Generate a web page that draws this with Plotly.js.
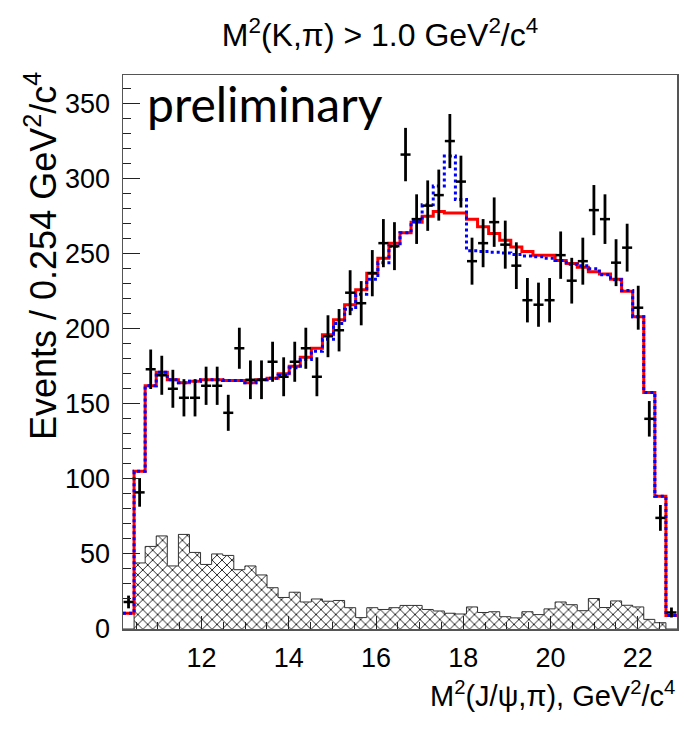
<!DOCTYPE html>
<html><head><meta charset="utf-8">
<script src="https://cdn.plot.ly/plotly-3.0.1.min.js"></script>
<style>html,body{margin:0;padding:0;background:#fff}</style>
</head><body><div id="chart" style="width:681px;height:739px"></div>
<script>
// Binning: 50 bins of 0.254 GeV^2/c^4
const X_MIN = 10.2;
const BIN_W = 0.254;

// Data counts per bin
const dataCounts = [18, 91, 173, 169, 160, 154, 154, 162, 162, 144,
  187, 166, 166, 178, 168, 178, 187, 168, 195, 199,
  224, 217, 237, 257, 255, 316, 273, 282, 289, 325,
  298, 245, 257, 271, 256, 242, 219, 216, 219, 249,
  232, 245, 279, 273, 244, 254, 214, 140, 74, 11];

// Red fit (solid)
const fitRed = [10.5, 105, 162, 171, 166, 164, 165, 166, 166, 165.5,
  165.5, 164, 166, 167, 170, 175, 181, 187, 196, 206,
  216, 226, 237, 247, 257, 264, 271, 275, 278, 277,
  277, 273, 268, 263.5, 259, 254.5, 251.5, 249, 249, 245.5,
  243.5, 241, 238, 236.5, 233, 225, 208, 157.5, 88.5, 9];

// Blue fit (dotted)
const fitBlue = [10.5, 105, 162, 171, 166, 164, 165, 166, 166, 165.5,
  165.5, 164, 166, 167, 169, 174, 179.5, 185, 193, 203.5,
  213, 223, 233, 244, 255, 264, 271.5, 282.5, 295, 315,
  286, 252, 251.5, 251, 250.5, 249.5, 248.5, 248, 247, 245.5,
  243, 242, 240, 236, 232.7, 225.5, 208, 157.5, 88.5, 9];

// Hatched background
const background = [0, 44, 55, 62, 42, 63, 51, 43, 50, 49,
  39.5, 42, 36, 27.5, 21, 24.5, 18, 20, 18.5, 19,
  14.2, 7.6, 14.2, 13, 14.2, 15.7, 15.7, 13, 12, 10.5,
  10, 14.7, 11, 11.5, 8.2, 7.4, 11.5, 9.6, 13.4, 18,
  16.2, 12.2, 20.3, 14.3, 18.7, 15.8, 14.7, 6.4, 4.2, 0];

const xTickVals = [12, 14, 16, 18, 20, 22];
const yTickVals = [0, 50, 100, 150, 200, 250, 300, 350];

const nb = dataCounts.length;
const centers = dataCounts.map((_, i) => X_MIN + (i + 0.5) * BIN_W);
const edges = Array.from({length: nb + 1}, (_, i) => X_MIN + i * BIN_W);
const stepY = arr => arr.concat([arr[arr.length - 1]]);
const errs = dataCounts.map(v => Math.sqrt(v));

const FONT = 'Liberation Sans, Arial, Helvetica, sans-serif';

const traces = [
  {
    type: 'bar', x: centers, y: background, width: BIN_W,
    marker: {color: '#ffffff', line: {width: 0},
      pattern: {shape: 'x', size: 7, solidity: 0.25, fgcolor: '#1a1a1a', bgcolor: '#ffffff', fillmode: 'replace'}},
    hoverinfo: 'skip', showlegend: false
  },
  {
    type: 'scatter', mode: 'lines', x: edges, y: stepY(background),
    line: {shape: 'hv', color: '#333', width: 1}, showlegend: false, hoverinfo: 'skip'
  },
  {
    type: 'scatter', mode: 'lines', x: edges, y: stepY(fitRed),
    line: {shape: 'hv', color: '#ff0000', width: 3}, showlegend: false
  },
  {
    type: 'scatter', mode: 'lines', x: edges, y: stepY(fitBlue),
    line: {shape: 'hv', color: '#0000ff', width: 3, dash: 'dot'}, showlegend: false
  },
  {
    type: 'scatter', mode: 'markers', x: centers, y: dataCounts,
    marker: {size: 3, color: '#000'},
    error_y: {type: 'data', array: errs, color: '#000', thickness: 2.8, width: 0},
    error_x: {type: 'constant', value: 0.115, color: '#000', thickness: 2.5, width: 0},
    showlegend: false
  }
];

const layout = {
  width: 681, height: 739,
  margin: {l: 123, r: 4, t: 75, b: 110},
  paper_bgcolor: '#fff', plot_bgcolor: '#fff',
  showlegend: false,
  bargap: 0,
  font: {family: FONT, color: '#000'},
  title: {
    text: 'M<sup>2</sup>(K,π) > 1.0 GeV<sup>2</sup>/c<sup>4</sup>',
    font: {family: FONT, size: 32, color: '#000'},
    x: 380 / 681, xref: 'container', xanchor: 'center',
    y: 1 - 35 / 739, yref: 'container', yanchor: 'middle'
  },
  xaxis: {
    range: [X_MIN, X_MIN + nb * BIN_W],
    tickmode: 'array', tickvals: xTickVals, ticktext: xTickVals.map(String),
    ticks: 'inside', ticklen: 13, tickwidth: 1, tickcolor: '#222',
    minor: {dtick: 0.5, tick0: 0, ticks: 'inside', ticklen: 7, tickwidth: 1, tickcolor: '#222', showgrid: false},
    showline: true, mirror: true, linecolor: '#555', linewidth: 1.5,
    showgrid: false, zeroline: false,
    tickfont: {family: FONT, size: 27, color: '#000'},
    ticklabelstandoff: 4
  },
  yaxis: {
    range: [0, 369],
    tickmode: 'array', tickvals: yTickVals, ticktext: yTickVals.map(String),
    ticks: 'inside', ticklen: 17, tickwidth: 1, tickcolor: '#222',
    minor: {dtick: 10, tick0: 0, ticks: 'inside', ticklen: 8, tickwidth: 1, tickcolor: '#222', showgrid: false},
    showline: true, mirror: true, linecolor: '#555', linewidth: 1.5,
    showgrid: false, zeroline: false,
    tickfont: {family: FONT, size: 27, color: '#000'},
    ticklabelstandoff: 6
  },
  annotations: [
    {
      text: 'preliminary', xref: 'paper', yref: 'paper',
      x: 22 / 554, y: (629 - 103) / 554, xanchor: 'left', yanchor: 'middle',
      showarrow: false, font: {family: 'Lato, sans-serif', size: 48, color: '#000'}
    },
    {
      text: 'Events / 0.254 GeV<sup>2</sup>/c<sup>4</sup>', xref: 'paper', yref: 'paper',
      x: (41 - 123) / 554, y: (629 - 70) / 554, xanchor: 'center', yanchor: 'top',
      textangle: -90, showarrow: false, font: {family: FONT, size: 36, color: '#000'}
    },
    {
      text: 'M<sup>2</sup>(J/ψ,π), GeV<sup>2</sup>/c<sup>4</sup>', xref: 'paper', yref: 'paper',
      x: 1, y: (629 - 694) / 554, xanchor: 'right', yanchor: 'middle',
      showarrow: false, font: {family: FONT, size: 29, color: '#000'}
    }
  ]
};

Plotly.newPlot('chart', traces, layout, {staticPlot: true, displayModeBar: false});
</script>
</body></html>
